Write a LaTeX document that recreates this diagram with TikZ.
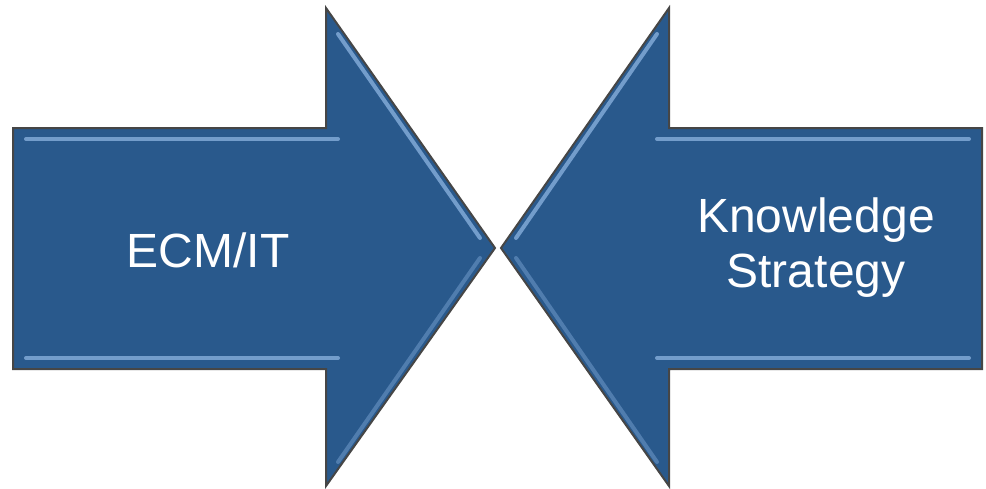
\documentclass[tikz,border=0pt]{standalone}
\usepackage{fontspec}
\setmainfont{Liberation Sans}
\usetikzlibrary{positioning}
\definecolor{arrowblue}{RGB}{41,89,140}
\definecolor{bevellight}{RGB}{140,180,225}
\tikzset{
  bigarrow/.style={fill=arrowblue, draw=gray!55!black, line width=1pt, line join=miter},
  bevel/.style={draw=bevellight, line width=2pt, line cap=round, opacity=0.75},
  arrowtext/.style={text=white, font=\fontsize{24}{27.5}\selectfont, align=center}
}

\begin{document}
\begin{tikzpicture}[x=0.5pt,y=-0.5pt]
  \useasboundingbox (0,0) rectangle (986,488);
  % left arrow
  \draw[bigarrow] (13,128) -- (326,128) -- (326,8) -- (495,248) -- (326,486) -- (326,369) -- (13,369) -- cycle;
  \draw[bevel] (26,139) -- (338,139);
  \draw[bevel] (26,358) -- (338,358);
  \draw[bevel] (338,34) -- (480,238);
  \draw[bevel,opacity=0.4] (338,462) -- (480,258);
  % right arrow
  \draw[bigarrow] (982,128) -- (669,128) -- (669,8) -- (501,248) -- (669,486) -- (669,369) -- (982,369) -- cycle;
  \draw[bevel] (969,139) -- (657,139);
  \draw[bevel] (969,358) -- (657,358);
  \draw[bevel] (657,34) -- (516,238);
  \draw[bevel,opacity=0.4] (657,462) -- (516,258);
  % labels
  \node[arrowtext] (ecm) at (208,250) {ECM/IT};
  \node[arrowtext] (strategy) at (816,248) {Knowledge\\Strategy};
\end{tikzpicture}
\end{document}
